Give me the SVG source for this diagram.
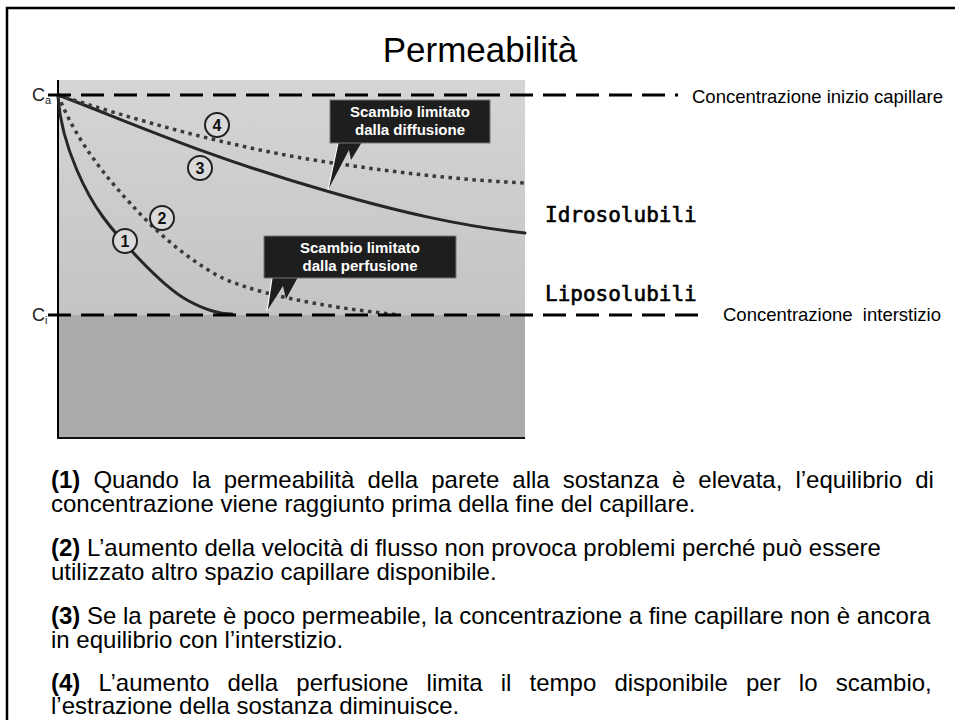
<svg xmlns="http://www.w3.org/2000/svg" width="955" height="720" viewBox="0 0 955 720">
<defs>
<linearGradient id="bgTop" x1="0" y1="0" x2="0" y2="1">
<stop offset="0" stop-color="#d5d5d5"/>
<stop offset="1" stop-color="#c4c4c4"/>
</linearGradient>
<style>
.sans{font-family:"Liberation Sans",Arial,sans-serif}
.note{font-family:"Liberation Sans",Arial,sans-serif;font-size:24px;fill:#000}
.num{font-weight:bold}
.solid{fill:none;stroke:#262626;stroke-width:3;stroke-linecap:round}
.dot{fill:none;stroke:#3a3a3a;stroke-width:3.5;stroke-dasharray:3.5 4.5}
.dash{fill:none;stroke:#000;stroke-width:3;stroke-dasharray:23 10}
.circ{fill:#dadada;stroke:#222;stroke-width:2}
.cnum{font-family:"Liberation Sans",Arial,sans-serif;font-size:16px;font-weight:bold;fill:#111;text-anchor:middle}
.box{fill:#1e1e1e;stroke:#777;stroke-width:1}
.boxt{font-family:"Liberation Sans",Arial,sans-serif;font-size:15px;font-weight:bold;fill:#fff;text-anchor:middle}
.side{font-family:"DejaVu Sans Mono",monospace;font-size:21px;fill:#000;stroke:#000;stroke-width:0.6}
.conc{font-family:"Liberation Sans",Arial,sans-serif;font-size:18.5px;fill:#000}
</style>
</defs>
<rect width="955" height="720" fill="#fff"/>
<path d="M7,720 V8 H955" fill="none" stroke="#000" stroke-width="2.5"/>

<g id="title">
<text class="sans" x="480" y="62" font-size="35" text-anchor="middle">Permeabilità</text>
</g>

<g id="chart">
<rect x="58" y="80" width="467" height="235" fill="url(#bgTop)"/>
<rect x="58" y="315" width="467" height="123" fill="#ababab"/>
<line x1="58" y1="80" x2="58" y2="439" stroke="#000" stroke-width="2"/>
<line x1="57" y1="438" x2="525" y2="438" stroke="#111" stroke-width="2"/>
<text class="sans" x="32" y="101" font-size="18" fill="#222">C<tspan font-size="11" dy="3">a</tspan></text>
<text class="sans" x="32" y="321" font-size="18" fill="#222">C<tspan font-size="11" dy="3">i</tspan></text>
</g>

<g id="curves">
<path id="curve-1" class="solid" d="M58,97 C62,150 89,198 103,217 C117,236 160,285 187,300 C205,310 218,314 232,314"/>
<path id="curve-2" class="dot" d="M58,95 C70,125 90,160 130,203 C150,225 175,250 213,273 C245,292 320,307 400,315"/>
<path id="curve-3" class="solid" d="M58,95 C120,118 200,155 330,192 C400,212 460,226 525,233"/>
<path id="curve-4" class="dot" d="M58,95 C130,118 230,148 333,163 C400,173 460,180 525,183"/>
</g>

<g id="reference-lines">
<path id="line-ca" class="dash" d="M48,95 H678"/>
<path id="line-ci" class="dash" d="M48,315 H705"/>
</g>

<g id="label-1"><circle class="circ" cx="125" cy="241" r="12"/><text class="cnum" x="125" y="247">1</text></g>
<g id="label-2"><circle class="circ" cx="162" cy="218" r="12"/><text class="cnum" x="162" y="224">2</text></g>
<g id="label-3"><circle class="circ" cx="200" cy="168" r="12"/><text class="cnum" x="200" y="174">3</text></g>
<g id="label-4"><circle class="circ" cx="217" cy="125" r="12"/><text class="cnum" x="217" y="131">4</text></g>

<g id="callout-diffusion">
<polygon points="338,142 328,190 349,150 351,160 362,142" fill="#1e1e1e"/>
<line x1="338" y1="143" x2="328" y2="190" stroke="#fff" stroke-width="1.2"/>
<rect class="box" x="330" y="100" width="160" height="43"/>
<text class="boxt" x="410" y="117">Scambio limitato</text>
<text class="boxt" x="410" y="135">dalla diffusione</text>
</g>

<g id="callout-perfusion">
<polygon points="272,277 267,311 283,286 286,299 298,277" fill="#1e1e1e"/>
<line x1="272" y1="278" x2="267" y2="311" stroke="#fff" stroke-width="1.2"/>
<rect class="box" x="264" y="236" width="192" height="42"/>
<text class="boxt" x="360" y="253">Scambio limitato</text>
<text class="boxt" x="360" y="271">dalla perfusione</text>
</g>

<g id="side-labels">
<text class="conc" x="692" y="103">Concentrazione inizio capillare</text>
<text class="side" x="545" y="222">Idrosolubili</text>
<text class="side" x="545" y="301">Liposolubili</text>
<text class="conc" x="723" y="321" xml:space="preserve">Concentrazione  interstizio</text>
</g>

<g id="notes">
<text class="note" x="51" y="488" word-spacing="6.4"><tspan class="num">(1)</tspan> Quando la permeabilità della parete alla sostanza è elevata, l’equilibrio di</text>
<text class="note" x="51" y="512">concentrazione viene raggiunto prima della fine del capillare.</text>
<text class="note" x="51" y="556"><tspan class="num">(2)</tspan> L’aumento della velocità di flusso non provoca problemi perché può essere</text>
<text class="note" x="51" y="580">utilizzato altro spazio capillare disponibile.</text>
<text class="note" x="51" y="624"><tspan class="num">(3)</tspan> Se la parete è poco permeabile, la concentrazione a fine capillare non è ancora</text>
<text class="note" x="51" y="648">in equilibrio con l’interstizio.</text>
<text class="note" x="51" y="691" word-spacing="11.5"><tspan class="num">(4)</tspan> L’aumento della perfusione limita il tempo disponibile per lo scambio,</text>
<text class="note" x="51" y="714">l’estrazione della sostanza diminuisce.</text>
</g>
</svg>
